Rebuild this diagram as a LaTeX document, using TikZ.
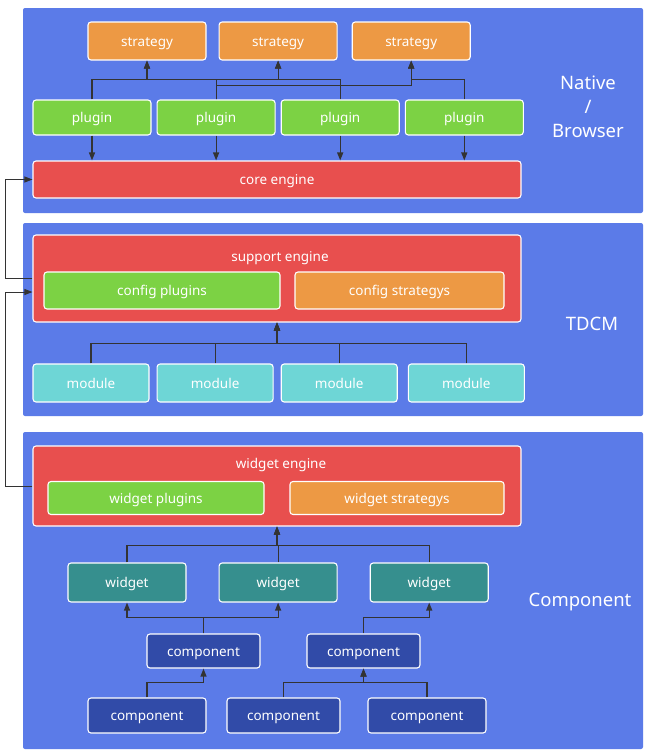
\documentclass[tikz,border=0pt]{standalone}
\usepackage{fontspec}
\setmainfont{Noto Sans}
\usetikzlibrary{arrows.meta,positioning}
\definecolor{layerblue}{HTML}{5B7BE8}
\definecolor{enginered}{HTML}{E84F4E}
\definecolor{plugingreen}{HTML}{7CD244}
\definecolor{strategyorange}{HTML}{ED9944}
\definecolor{modulecyan}{HTML}{6ED6D6}
\definecolor{widgetteal}{HTML}{368F8E}
\definecolor{compblue}{HTML}{314BA8}
\definecolor{linegray}{HTML}{333333}
\tikzset{
	box/.style={
		rectangle,
		rounded corners=3pt,
		draw=white,
		line width=1.1pt,
		inner sep=0pt,
		text=white,
		text height=10pt,
		text depth=0pt,
		font=\fontsize{13.5}{15}\selectfont,
	},
	strategybox/.style={box,fill=strategyorange,minimum width=118pt,minimum height=38pt},
	pluginbox/.style={box,fill=plugingreen,minimum width=118pt,minimum height=35pt},
	enginebox/.style={box,fill=enginered,minimum width=488pt},
	modulebox/.style={box,fill=modulecyan,minimum width=116pt,minimum height=38pt},
	widgetbox/.style={box,fill=widgetteal,minimum width=118pt,minimum height=39pt},
	compbox/.style={box,fill=compblue,minimum width=118pt,minimum height=35pt},
	layer/.style={fill=layerblue,rounded corners=2pt},
	layertitle/.style={text=white,font=\fontsize{18.5}{24}\selectfont,align=center},
	link/.style={
		-{Triangle[length=8pt,width=6pt]},
		line width=1.2pt,
		draw=linegray,
	}
}
\begin{document}
\begin{tikzpicture}[x=1pt,y=-1pt]
\useasboundingbox (0,0) rectangle (658,756);

% layers
\path[layer] (23,8) rectangle (643,213);
\path[layer] (23,223) rectangle (643,416);
\path[layer] (23,432) rectangle (643,749);

\node[layertitle] (native) at (588,107) {Native\\/\\Browser};
\node[layertitle] (tdcm) at (592,324) {TDCM};
\node[layertitle] (component) at (580,602) {Component};

% native / browser
\node[strategybox] (s1) at (147,41) {strategy};
\node[strategybox] (s2) [right=12pt of s1] {strategy};
\node[strategybox] (s3) [right=14pt of s2] {strategy};
\node[pluginbox] (p1) at (92,117.5) {plugin};
\node[pluginbox] (p2) [right=5pt of p1] {plugin};
\node[pluginbox] (p3) [right=5pt of p2] {plugin};
\node[pluginbox] (p4) [right=5pt of p3] {plugin};
\node[enginebox,minimum height=37pt] (core) at (277,179.5) {core engine};

% tdcm
\node[enginebox,minimum height=87pt] (se) at (277,278.5) {};
\node[box,draw=none] (setitle) at (280,256) {support engine};
\node[box,fill=plugingreen,minimum width=236pt,minimum height=37pt] (cp) at (162,290.5) {config plugins};
\node[box,fill=strategyorange,minimum width=209pt,minimum height=37pt] (cs) at (399.5,290.5) {config strategys};
\node[modulebox] (m1) at (91,383) {module};
\node[modulebox] (m2) [right=7pt of m1] {module};
\node[modulebox] (m3) [right=7pt of m2] {module};
\node[modulebox] (m4) [right=10pt of m3] {module};

% component
\node[enginebox,minimum height=80pt] (we) at (277,486) {};
\node[box,draw=none] (wetitle) at (281,463) {widget engine};
\node[box,fill=plugingreen,minimum width=216pt,minimum height=33pt] (wp) at (156,498) {widget plugins};
\node[box,fill=strategyorange,minimum width=214pt,minimum height=33pt] (ws) at (397,498) {widget strategys};
\node[widgetbox] (w1) at (127,582.5) {widget};
\node[widgetbox] (w2) [right=32pt of w1] {widget};
\node[widgetbox] (w3) [right=32pt of w2] {widget};
\node[compbox,minimum width=113pt,minimum height=34pt] (c1) at (203.5,651) {component};
\node[compbox,minimum width=113pt,minimum height=34pt] (c2) at (363.5,651) {component};
\node[compbox] (b1) at (147,715.5) {component};
\node[compbox,minimum width=113pt] (b2) at (283.5,715.5) {component};
\node[compbox] (b3) at (427,715.5) {component};

% plugins to strategies
\draw[link] (p1.north) -- ++(0,-20) -| (s1.south);
\draw[link] (p2.north) -- ++(0,-20) -| (s1.south);
\draw[link] (p2.north) -- ++(0,-20) -| (s2.south);
\draw[link] (p3.north) -- ++(0,-20) -| (s2.south);
\draw[link] (p2.north) -- ++(0,-14) -| (s3.south);
\draw[link] (p4.north) -- ++(0,-20) -| (s3.south);

% plugins to core engine
\foreach \p in {p1,p2,p3,p4}
  \draw[link] (\p.south) -- (\p.south |- core.north);

% modules to support engine
\foreach \m in {m1,m2,m3,m4}
  \draw[link] (\m.north) -- ++(0,-20) -| (se.south);

% widgets to widget engine
\foreach \w in {w1,w2,w3}
  \draw[link] (\w.north) -- ++(0,-17) -| (we.south);

% components to widgets
\draw[link] (c1.north) -- ++(0,-16) -| (w1.south);
\draw[link] (c1.north) -- ++(0,-16) -| (w2.south);
\draw[link] (c2.north) -- ++(0,-16) -| (w3.south);
\draw[link] (b1.north) -- ++(0,-15) -| (c1.south);
\draw[link] (b2.north) -- ++(0,-15) -| (c2.south);
\draw[link] (b3.north) -- ++(0,-15) -| (c2.south);

% engines between layers
\draw[link,line width=0.9pt]
  (se.west)
  -- ++(-27,0)
  |- (core.west);
\draw[link,line width=0.9pt]
  (we.west)
  -- ++(-27,0)
  |- ([yshift=-13.5pt]se.west);

\end{tikzpicture}
\end{document}
